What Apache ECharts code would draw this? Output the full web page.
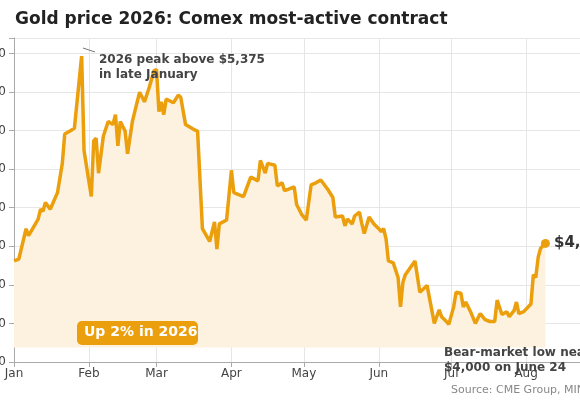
<!DOCTYPE html>
<html><head><meta charset="utf-8">
<script src="https://cdn.jsdelivr.net/npm/echarts@6/dist/echarts.min.js"></script>
<style>html,body{margin:0;padding:0;background:#fff}#c{width:580px;height:400px}</style>
</head><body><div id="c"></div>
<script>
const dates = ["2026-01-01","2026-01-03","2026-01-06","2026-01-07","2026-01-08","2026-01-11","2026-01-12","2026-01-13","2026-01-14","2026-01-16","2026-01-19","2026-01-21","2026-01-22","2026-01-24","2026-01-26","2026-01-29","2026-01-30","2026-02-02","2026-02-03","2026-02-04","2026-02-05","2026-02-07","2026-02-09","2026-02-11","2026-02-12","2026-02-13","2026-02-14","2026-02-16","2026-02-17","2026-02-19","2026-02-20","2026-02-22","2026-02-24","2026-02-26","2026-02-28","2026-03-01","2026-03-02","2026-03-03","2026-03-04","2026-03-05","2026-03-08","2026-03-10","2026-03-11","2026-03-13","2026-03-17","2026-03-18","2026-03-20","2026-03-23","2026-03-25","2026-03-26","2026-03-27","2026-03-30","2026-04-01","2026-04-02","2026-04-06","2026-04-09","2026-04-12","2026-04-13","2026-04-15","2026-04-16","2026-04-19","2026-04-20","2026-04-22","2026-04-23","2026-04-25","2026-04-27","2026-04-28","2026-04-30","2026-05-02","2026-05-04","2026-05-06","2026-05-08","2026-05-11","2026-05-13","2026-05-14","2026-05-17","2026-05-18","2026-05-19","2026-05-21","2026-05-22","2026-05-24","2026-05-25","2026-05-26","2026-05-28","2026-05-30","2026-06-01","2026-06-02","2026-06-03","2026-06-04","2026-06-05","2026-06-07","2026-06-09","2026-06-10","2026-06-11","2026-06-12","2026-06-16","2026-06-18","2026-06-21","2026-06-24","2026-06-26","2026-06-27","2026-06-29","2026-06-30","2026-07-02","2026-07-03","2026-07-05","2026-07-06","2026-07-07","2026-07-09","2026-07-11","2026-07-13","2026-07-15","2026-07-17","2026-07-19","2026-07-20","2026-07-22","2026-07-24","2026-07-25","2026-07-27","2026-07-28","2026-07-29","2026-07-31","2026-08-03","2026-08-04","2026-08-05","2026-08-06","2026-08-07","2026-08-09"];
const prices = [4324,4334,4491,4455,4476,4541,4592,4582,4627,4592,4678,4830,4982,4997,5012,5386,4896,4658,4946,4961,4779,4972,5047,5032,5083,4921,5047,4997,4880,5047,5098,5199,5149,5225,5311,5316,5098,5149,5083,5164,5144,5184,5174,5032,5002,4997,4491,4425,4526,4385,4516,4536,4794,4678,4658,4759,4739,4845,4779,4830,4820,4713,4729,4688,4698,4708,4617,4567,4536,4718,4729,4744,4693,4653,4552,4557,4506,4541,4516,4557,4577,4516,4466,4552,4516,4491,4476,4491,4440,4324,4314,4238,4086,4213,4253,4324,4162,4197,4000,4071,4035,4010,3995,4086,4162,4157,4086,4111,4061,4000,4051,4020,4010,4010,4121,4046,4061,4035,4066,4111,4051,4061,4101,4253,4238,4344,4390,4415];
const yTicks = [3800,4000,4200,4400,4600,4800,5000,5200,5400];
const lastLabel = "$4,415";
const orange = "#eb9f0c";
const data = dates.map((d,i)=>[d,prices[i]]);
const chart = echarts.init(document.getElementById('c'));
chart.setOption({
  animation:false,
  title:{text:"Gold price 2026: Comex most-active contract",left:10,top:6,textStyle:{fontFamily:"DejaVu Sans",fontSize:17,fontWeight:"bold",color:"#222"}},
  grid:{left:14,right:-21,top:38,bottom:38,containLabel:false,outerBoundsMode:"none"},
  xAxis:{type:"time",min:"2026-01-01",max:"2026-09-01",splitNumber:8,
    axisLine:{lineStyle:{color:"#aaa"}},axisTick:{show:true,lineStyle:{color:"#aaa"}},
    splitLine:{show:true,lineStyle:{color:"#e6e6e6"}},
    axisLabel:{formatter:"{MMM}",color:"#444",fontFamily:"DejaVu Sans",fontSize:12,margin:6}},
  yAxis:{type:"value",min:3800,max:5480,interval:200,
    axisLine:{show:true,lineStyle:{color:"#aaa"}},axisTick:{show:true,lineStyle:{color:"#aaa"}},
    splitLine:{lineStyle:{color:"#e6e6e6"}},
    axisLabel:{color:"#444",fontFamily:"DejaVu Sans",fontSize:12,formatter:v=>yTicks.includes(v)?v.toLocaleString("en-US"):""}},
  series:[{type:"line",data:data,symbol:"none",lineStyle:{color:orange,width:3.5},
    areaStyle:{color:"#fdf2df",opacity:1,origin:3875},
    markPoint:{symbol:"circle",symbolSize:9,itemStyle:{color:orange},
      label:{show:true,position:"right",formatter:lastLabel,color:"#333",fontFamily:"DejaVu Sans",fontWeight:"bold",fontSize:15,distance:4},
      data:[{coord:data[data.length-1]}]}}],
  graphic:[
    {type:"line",z:100,shape:{x1:83,y1:48,x2:95,y2:52},style:{stroke:"#777",lineWidth:1}},
    {type:"text",z:100,left:99,top:52,style:{text:"2026 peak above $5,375\nin late January",fill:"#444",font:"bold 12px DejaVu Sans",lineHeight:15}},
    {type:"rect",z:100,shape:{x:77,y:321,width:121,height:24,r:5},style:{fill:orange}},
    {type:"text",z:101,left:84,top:325,style:{text:"Up 2% in 2026",fill:"#fff",font:"bold 14px DejaVu Sans"}},
    {type:"text",z:100,left:444,top:345,style:{text:"Bear-market low near\n$4,000 on June 24",fill:"#444",font:"bold 12px DejaVu Sans",lineHeight:15}},
    {type:"text",z:100,left:451,top:385,style:{text:"Source: CME Group, MINING.COM",fill:"#888",font:"11px DejaVu Sans"}}
  ]
});
</script></body></html>
